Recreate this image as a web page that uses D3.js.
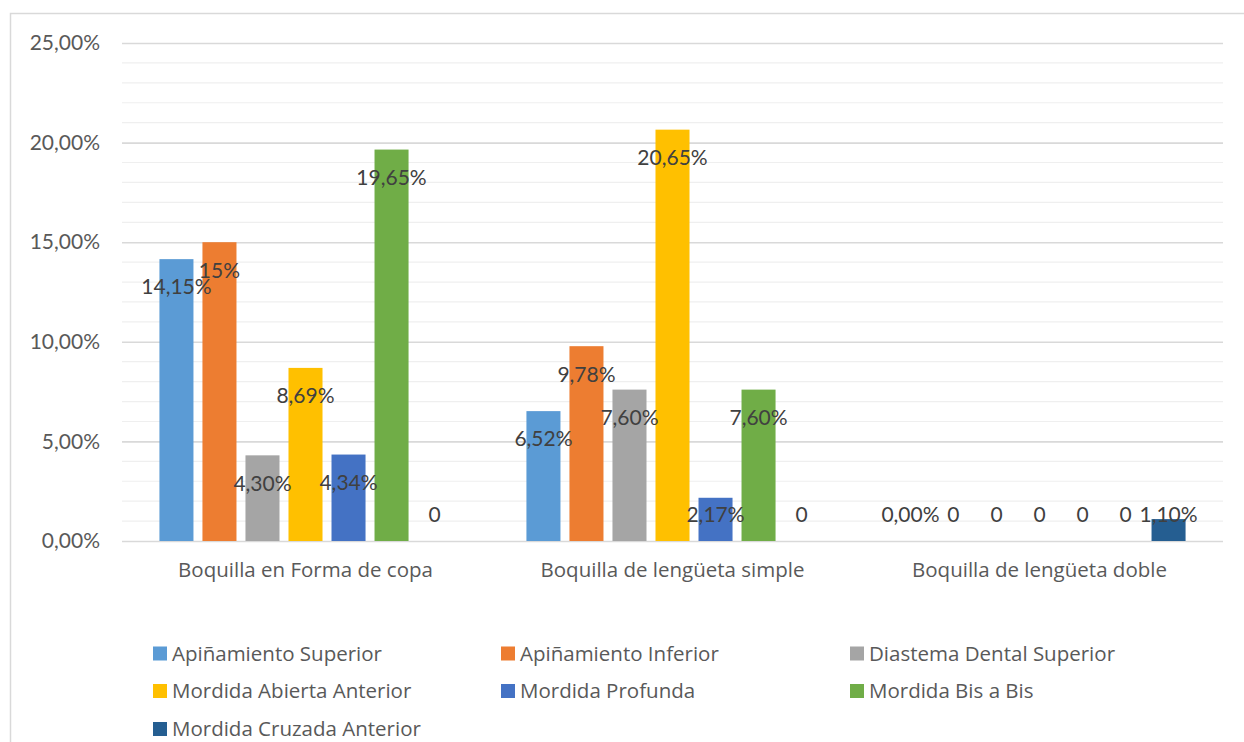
<!DOCTYPE html>
<html>
<head>
<meta charset="utf-8">
<script src="https://cdn.jsdelivr.net/npm/d3@7"></script>
<style>
  html, body { margin: 0; padding: 0; background: #ffffff; }
  svg { display: block; font-family: Lato, "Open Sans", "Noto Sans", sans-serif; }
</style>
</head>
<body>
<svg id="chart" width="1244" height="742"></svg>
<script>
// Categories (mouthpiece types)
const categories = ["Boquilla en Forma de copa", "Boquilla de lengüeta simple", "Boquilla de lengüeta doble"];

// Series names (malocclusion types)
const seriesNames = [
  "Apiñamiento Superior", "Apiñamiento Inferior", "Diastema Dental Superior",
  "Mordida Abierta Anterior", "Mordida Profunda", "Mordida Bis a Bis",
  "Mordida Cruzada Anterior"
];

// Percentages per series, one value per category
const apinamientoSuperior  = [14.15, 6.52, 0];
const apinamientoInferior  = [15, 9.78, 0];
const diastemaSuperior     = [4.30, 7.60, 0];
const mordidaAbierta       = [8.69, 20.65, 0];
const mordidaProfunda      = [4.34, 2.17, 0];
const mordidaBisABis       = [19.65, 7.60, 0];
const mordidaCruzada       = [0, 0, 1.10];

// Data label text per series, one per category
const labelsApinSup   = ["14,15%", "6,52%", "0,00%"];
const labelsApinInf   = ["15%", "9,78%", "0"];
const labelsDiastema  = ["4,30%", "7,60%", "0"];
const labelsAbierta   = ["8,69%", "20,65%", "0"];
const labelsProfunda  = ["4,34%", "2,17%", "0"];
const labelsBisABis   = ["19,65%", "7,60%", "0"];
const labelsCruzada   = ["0", "0", "1,10%"];

// Y-axis ticks
const yTickValues = [0, 5, 10, 15, 20, 25];
const yTickLabels = ["0,00%", "5,00%", "10,00%", "15,00%", "20,00%", "25,00%"];

const colors = ["#5B9BD5", "#ED7D31", "#A5A5A5", "#FFC000", "#4472C4", "#70AD47", "#255E91"];

const seriesValues = [apinamientoSuperior, apinamientoInferior, diastemaSuperior,
  mordidaAbierta, mordidaProfunda, mordidaBisABis, mordidaCruzada];
const seriesLabels = [labelsApinSup, labelsApinInf, labelsDiastema,
  labelsAbierta, labelsProfunda, labelsBisABis, labelsCruzada];

const numFont = "Lato, 'Open Sans', sans-serif";
const textFont = "'Open Sans', Lato, sans-serif";

const svg = d3.select("#chart");

// Chart frame (only top and left edges fall inside the view)
svg.append("rect")
  .attr("x", 10.5).attr("y", 13.5)
  .attr("width", 1260).attr("height", 760)
  .attr("fill", "#ffffff")
  .attr("stroke", "#d9d9d9").attr("stroke-width", 1.5);

const plot = { left: 122, right: 1223, top: 43, bottom: 541 };

const y = d3.scaleLinear().domain([0, 25]).range([plot.bottom, plot.top]);

const x0 = d3.scaleBand()
  .domain(categories)
  .range([plot.left, plot.right])
  .paddingInner(0.204)
  .paddingOuter(0.102);

const x1 = d3.scaleBand()
  .domain(seriesNames)
  .range([0, x0.bandwidth()])
  .paddingInner(0.209)
  .paddingOuter(0);

// Minor gridlines every 1%
const minorTicks = d3.range(1, 25).filter(v => v % 5 !== 0);
svg.append("g").selectAll("line")
  .data(minorTicks)
  .join("line")
  .attr("x1", plot.left).attr("x2", plot.right)
  .attr("y1", d => y(d)).attr("y2", d => y(d))
  .attr("stroke", "#efefef").attr("stroke-width", 1.2);

// Major gridlines every 5% (the 0% line doubles as the baseline)
const yAxis = d3.axisLeft(y)
  .tickValues(yTickValues)
  .tickSize(-(plot.right - plot.left))
  .tickPadding(22)
  .tickFormat((d, i) => yTickLabels[i]);

const gy = svg.append("g")
  .attr("transform", `translate(${plot.left},0)`)
  .call(yAxis);
gy.select(".domain").remove();
gy.selectAll(".tick line").attr("stroke", "#d9d9d9").attr("stroke-width", 1.6);
gy.selectAll(".tick text")
  .attr("fill", "#595959")
  .style("font-size", "21px")
  .attr("font-family", numFont);

// Category axis labels
const xAxis = d3.axisBottom(x0).tickSize(0).tickPadding(21);
const gx = svg.append("g")
  .attr("transform", `translate(0,${plot.bottom})`)
  .call(xAxis);
gx.select(".domain").remove();
gx.selectAll(".tick text")
  .attr("fill", "#595959")
  .style("font-size", "20.5px")
  .attr("font-family", textFont);

// Flatten into bar records
const bars = [];
seriesNames.forEach((s, si) => {
  categories.forEach((c, ci) => {
    bars.push({ series: s, si, category: c, value: seriesValues[si][ci], label: seriesLabels[si][ci] });
  });
});

// Bars
svg.append("g").selectAll("rect")
  .data(bars.filter(d => d.value > 0))
  .join("rect")
  .attr("x", d => x0(d.category) + x1(d.series))
  .attr("y", d => y(d.value))
  .attr("width", x1.bandwidth())
  .attr("height", d => y(0) - y(d.value))
  .attr("fill", d => colors[d.si]);

// Data labels (inside end, kept above the baseline for short bars)
svg.append("g").selectAll("text")
  .data(bars)
  .join("text")
  .attr("x", d => x0(d.category) + x1(d.series) + x1.bandwidth() / 2)
  .attr("y", d => Math.min(y(d.value) + 28, y(0) - 26))
  .attr("dy", "0.35em")
  .attr("text-anchor", "middle")
  .attr("fill", "#404040")
  .attr("font-family", numFont)
  .style("font-size", "21px")
  .text(d => d.label);

// Legend: three columns, three rows
const legendCols = [153, 501, 850];
const legendRows = [653.5, 691, 729];
const legend = svg.append("g").selectAll("g")
  .data(seriesNames)
  .join("g")
  .attr("transform", (d, i) => `translate(${legendCols[i % 3]},${legendRows[Math.floor(i / 3)]})`);
legend.append("rect")
  .attr("x", 0).attr("y", -7)
  .attr("width", 14).attr("height", 14)
  .attr("fill", (d, i) => colors[i]);
legend.append("text")
  .attr("x", 19).attr("y", 0)
  .attr("dy", "0.35em")
  .attr("fill", "#595959")
  .attr("font-family", textFont)
  .style("font-size", "20.5px")
  .text(d => d);
</script>
</body>
</html>
